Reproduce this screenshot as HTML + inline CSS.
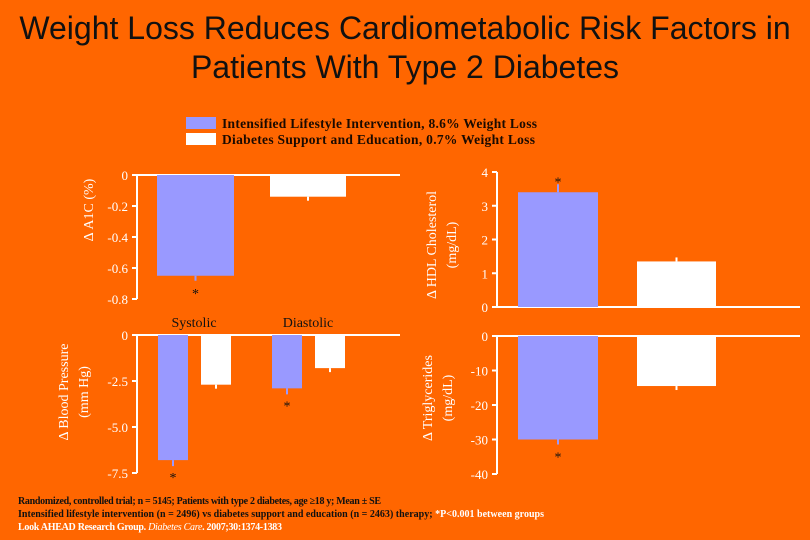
<!DOCTYPE html>
<html><head><meta charset="utf-8"><style>
body{margin:0;background:#ff6600;}
svg{display:block;font-family:"Liberation Serif",serif;}
</style></head><body>
<svg id="c" width="810" height="540" viewBox="0 0 810 540" xmlns="http://www.w3.org/2000/svg">
<rect width="810" height="540" fill="#ff6600"/>
<text x="405" y="39" text-anchor="middle" font-family="Liberation Sans,sans-serif" font-size="32" fill="#111">Weight Loss Reduces Cardiometabolic Risk Factors in</text>
<text x="405" y="78" text-anchor="middle" font-family="Liberation Sans,sans-serif" font-size="32" fill="#111">Patients With Type 2 Diabetes</text>
<g>
<rect x="186" y="117" width="30" height="12" fill="#9999ff"/>
<text x="222" y="128" font-size="13.5" font-weight="bold" fill="#1a0a00" textLength="315">Intensified Lifestyle Intervention, 8.6% Weight Loss</text>
<rect x="186" y="133" width="30" height="12" fill="#fff"/>
<text x="222" y="144" font-size="13.5" font-weight="bold" fill="#1a0a00" textLength="313">Diabetes Support and Education, 0.7% Weight Loss</text>
</g>
<g font-size="10" font-weight="bold">
<text x="18" y="504" fill="#111" textLength="363">Randomized, controlled trial; n = 5145; Patients with type 2 diabetes, age ≥18 y; Mean ± SE</text>
<text x="18" y="517" fill="#111" textLength="526">Intensified lifestyle intervention (n = 2496) vs diabetes support and education (n = 2463) therapy; <tspan fill="#fff">*P&lt;0.001 between groups</tspan></text>
<text x="18" y="530" fill="#fff" textLength="264">Look AHEAD Research Group. <tspan font-style="italic" font-weight="normal">Diabetes Care</tspan>. 2007;30:1374-1383</text>
</g>
</svg>
<script>
// A1C panel
const a1cValues=[-0.65,-0.14];
const a1cTicks=[0,-0.2,-0.4,-0.6,-0.8];
// HDL panel
const hdlValues=[3.4,1.35];
const hdlTicks=[4,3,2,1,0];
// Blood pressure panel
const bpCategories=["Systolic","Diastolic"];
const bpIli=[-6.8,-2.9];
const bpDse=[-2.7,-1.8];
const bpTicks=[0,-2.5,-5.0,-7.5];
const bpTickLabels=["0","-2.5","-5.0","-7.5"];
// Triglycerides panel
const tgValues=[-30,-14.5];
const tgTicks=[0,-10,-20,-30,-40];

const NS="http://www.w3.org/2000/svg";
const svg=document.getElementById('c');
function mk(tag,attrs,name,txt){const e=document.createElementNS(NS,tag);for(const k in attrs)e.setAttribute(k,attrs[k]);


if(txt!==undefined)e.textContent=txt;svg.appendChild(e);return e;}
function lin(d0,d1,r0,r1){return v=>r0+(v-d0)/(d1-d0)*(r1-r0);}
function axis(x,y,ticks,labels,xEnd,baseY,pfx){
  mk('line',{x1:x,y1:y(ticks[0]),x2:x,y2:y(ticks[ticks.length-1]),stroke:'#fff','stroke-width':2},pfx+'-y-axis');
  ticks.forEach((t,i)=>{mk('line',{x1:x-5,y1:y(t),x2:x,y2:y(t),stroke:'#fff','stroke-width':2},pfx+'-tick');
    mk('text',{x:x-9,y:y(t)+5,'text-anchor':'end','font-size':13,fill:'#fff'},pfx+'-tick-label',labels[i]);});
  mk('line',{x1:x,y1:baseY,x2:xEnd,y2:baseY,stroke:'#fff','stroke-width':2},pfx+'-baseline');
}
function bar(x,w,y,v,fill,name,err,star){
  const y0=y(0),y1=y(v);
  mk('rect',{x:x,y:Math.min(y0,y1),width:w,height:Math.abs(y1-y0),fill:fill},name);
  const d=v<0?1:-1;
  mk('line',{x1:x+w/2,y1:y1,x2:x+w/2,y2:y1+d*err,stroke:fill,'stroke-width':2},name+'-error-bar');
  if(star)mk('text',{x:x+w/2,y:y1+(v<0?22:-6),'text-anchor':'middle','font-size':14,fill:'#111'},name+'-significance','*');
}
// A1C
let yA=lin(0,-0.8,175,299);
axis(137,yA,a1cTicks,a1cTicks.map(t=>t===0?'0':t.toFixed(1)),400,yA(0),'a1c');
bar(157,77,yA,a1cValues[0],'#9999ff','a1c-bar-ili',5,true);
bar(270,76,yA,a1cValues[1],'#fff','a1c-bar-dse',4,false);
mk('text',{x:0,y:0,transform:'translate(93,210) rotate(-90)','text-anchor':'middle','font-size':14,fill:'#fff'},'a1c-y-axis-title','Δ A1C  (%)');
// HDL
let yH=lin(0,4,307,172);
axis(497,yH,hdlTicks,hdlTicks.map(String),800,yH(0),'hdl');
bar(518,80,yH,hdlValues[0],'#9999ff','hdl-bar-ili',8,true);
bar(637,79,yH,hdlValues[1],'#fff','hdl-bar-dse',4,false);
mk('text',{x:0,y:0,transform:'translate(436,245) rotate(-90)','text-anchor':'middle','font-size':14,fill:'#fff'},'hdl-y-axis-title','Δ HDL Cholesterol');
mk('text',{x:0,y:0,transform:'translate(456,245) rotate(-90)','text-anchor':'middle','font-size':14,fill:'#fff'},'hdl-y-axis-unit','(mg/dL)');
// BP
let yB=lin(0,-7.5,335,473);
axis(137,yB,bpTicks,bpTickLabels,400,yB(0),'bp');
const bpX=[158,272];
bpCategories.forEach((c,i)=>{
  mk('text',{x:bpX[i]+36,y:327,'text-anchor':'middle','font-size':14,fill:'#111'},'bp-category-label',c);
  bar(bpX[i],30,yB,bpIli[i],'#9999ff','bp-bar-ili-'+c.toLowerCase(),6,true);
  bar(bpX[i]+43,30,yB,bpDse[i],'#fff','bp-bar-dse-'+c.toLowerCase(),4,false);
});
mk('text',{x:0,y:0,transform:'translate(68,392) rotate(-90)','text-anchor':'middle','font-size':14,fill:'#fff'},'bp-y-axis-title','Δ Blood Pressure');
mk('text',{x:0,y:0,transform:'translate(88,392) rotate(-90)','text-anchor':'middle','font-size':14,fill:'#fff'},'bp-y-axis-unit','(mm Hg)');
// TG
let yT=lin(0,-40,336,474);
axis(497,yT,tgTicks,tgTicks.map(String),800,yT(0),'tg');
bar(518,80,yT,tgValues[0],'#9999ff','tg-bar-ili',5,true);
bar(637,79,yT,tgValues[1],'#fff','tg-bar-dse',4,false);
mk('text',{x:0,y:0,transform:'translate(432,398) rotate(-90)','text-anchor':'middle','font-size':14,fill:'#fff'},'tg-y-axis-title','Δ Triglycerides');
mk('text',{x:0,y:0,transform:'translate(452,398) rotate(-90)','text-anchor':'middle','font-size':14,fill:'#fff'},'tg-y-axis-unit','(mg/dL)');
</script>
</body></html>
